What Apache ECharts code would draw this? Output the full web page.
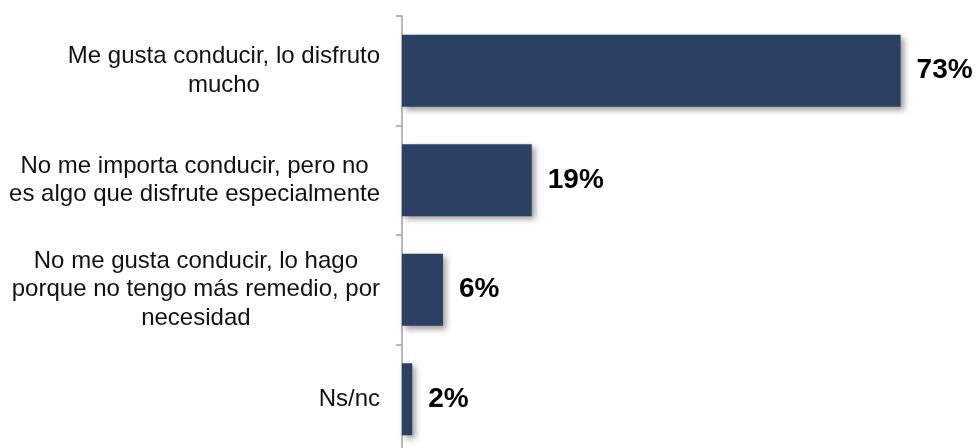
<!DOCTYPE html>
<html>
<head>
<meta charset="utf-8">
<script src="https://cdn.jsdelivr.net/npm/echarts@6/dist/echarts.min.js"></script>
<style>
html,body{margin:0;padding:0;background:#fff;}
#chart{width:977px;height:448px;}
</style>
</head>
<body>
<div id="chart"></div>
<script>
const categories = [
  "Me gusta conducir, lo disfruto\nmucho",
  "No me importa conducir, pero no\nes algo que disfrute especialmente",
  "No me gusta conducir, lo hago\nporque no tengo más remedio, por\nnecesidad",
  "Ns/nc"
];
const values = [73, 19, 6, 1.5];
const valueLabels = ["73%", "19%", "6%", "2%"];

const chart = echarts.init(document.getElementById('chart'), null, {renderer: 'canvas'});
chart.setOption({
  animation: false,
  grid: {left: 402, top: 16, width: 546.4, height: 438, outerBoundsMode: 'none', containLabel: false},
  xAxis: {
    type: 'value', min: 0, max: 80,
    show: false
  },
  yAxis: {
    type: 'category',
    data: categories,
    inverse: true,
    axisLine: {show: true, lineStyle: {color: '#a0a0a0', width: 1.5}},
    axisTick: {show: true, length: 6, lineStyle: {color: '#a0a0a0', width: 1.5}},
    axisLabel: {
      margin: 22,
      fontFamily: 'Liberation Sans, Arial, sans-serif',
      fontSize: 24,
      color: '#111',
      align: 'right',
      lineHeight: 28.5,
      formatter: function (v) {
        return v.split('\n').map(function (l) { return '{c|' + l + '}'; }).join('\n');
      },
      rich: {
        c: {align: 'center', fontSize: 24, lineHeight: 28.5, fontFamily: 'Liberation Sans, Arial, sans-serif', color: '#111'}
      }
    }
  },
  series: [{
    type: 'bar',
    data: values,
    barWidth: 72,
    itemStyle: {
      color: '#2B4163',
      shadowColor: 'rgba(0,0,0,0.4)',
      shadowBlur: 6,
      shadowOffsetX: 3,
      shadowOffsetY: 3
    },
    label: {
      show: true,
      position: 'right',
      distance: 16,
      fontFamily: 'Liberation Sans, Arial, sans-serif',
      fontWeight: 'bold',
      fontSize: 28,
      color: '#000',
      formatter: function (p) { return valueLabels[p.dataIndex]; }
    }
  }]
});
</script>
</body>
</html>
